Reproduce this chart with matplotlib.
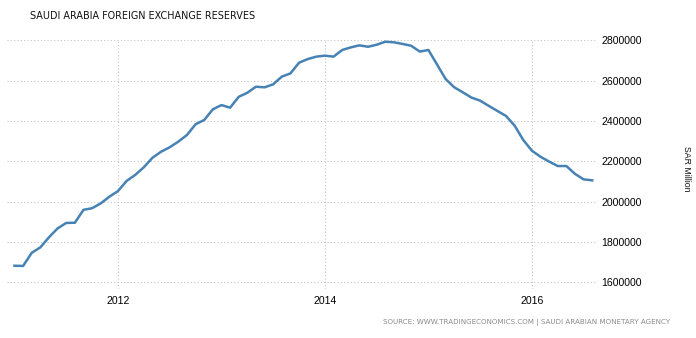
import numpy as np
import matplotlib
matplotlib.use("Agg")
import matplotlib.pyplot as plt

# monthly reserves, SAR million, Jan 2011 .. Aug 2016
months = np.arange(68)
reserves = [
    1683000, 1682000, 1747000, 1774000, 1824000, 1868000, 1895000, 1896000,
    1960000, 1968000, 1992000, 2025000,
    2053000, 2103000, 2133000, 2171000, 2218000, 2248000, 2270000, 2298000,
    2331000, 2384000, 2405000, 2458000,
    2479000, 2466000, 2520000, 2540000, 2570000, 2567000, 2582000, 2620000,
    2636000, 2689000, 2707000, 2719000,
    2724000, 2719000, 2752000, 2765000, 2775000, 2768000, 2778000, 2793000,
    2790000, 2782000, 2773000, 2744000,
    2752000, 2680000, 2608000, 2567000, 2542000, 2516000, 2501000, 2475000,
    2450000, 2425000, 2377000, 2306000,
    2253000, 2223000, 2199000, 2177000, 2177000, 2138000, 2111000, 2106000,
]
year_ticks = [12, 36, 60]
year_labels = ["2012", "2014", "2016"]
y_ticks = [1600000, 1800000, 2000000, 2200000, 2400000, 2600000, 2800000]

fig = plt.figure(figsize=(6.96, 3.38), dpi=100)
ax = fig.add_axes([7 / 696, 49 / 338, 590 / 696, 248.7 / 338])

ax.plot(months, reserves, color="#4682b4", lw=1.8, solid_joinstyle="round")

ax.set_xlim(-0.87, 67.55)
ax.set_ylim(1567700, 2800000)
ax.set_xticks(year_ticks)
ax.set_xticklabels(year_labels)
ax.set_yticks(y_ticks)
ax.set_yticklabels([str(v) for v in y_ticks])
ax.yaxis.tick_right()
ax.tick_params(length=0, labelsize=7.6, labelcolor="#000000")
ax.tick_params(axis="y", pad=3)
ax.tick_params(axis="x", pad=5)
for lab in ax.get_xticklabels() + ax.get_yticklabels():
    lab.set_family("Liberation Sans")
for lab in ax.get_yticklabels():
    lab.set_horizontalalignment("left")

ax.grid(True, color="#c4c4c4", lw=0.8, linestyle=(0, (1, 2)))
for s in ax.spines.values():
    s.set_visible(False)

fig.text(30 / 696, 1 - 16 / 338, "SAUDI ARABIA FOREIGN EXCHANGE RESERVES",
         fontsize=6.9, family="DejaVu Sans", color="#111111", va="center")
fig.text(686 / 696, 1 - 169 / 338, "SAR Million", rotation=-90,
         fontsize=6.3, family="Liberation Sans", color="#111111",
         ha="center", va="center")
fig.text(670 / 696, 1 - 323 / 338,
         "SOURCE: WWW.TRADINGECONOMICS.COM | SAUDI ARABIAN MONETARY AGENCY",
         fontsize=5.1, family="DejaVu Sans",
         color="#8a8a8a", ha="right", va="center")

fig.savefig("out.png", dpi=100)
